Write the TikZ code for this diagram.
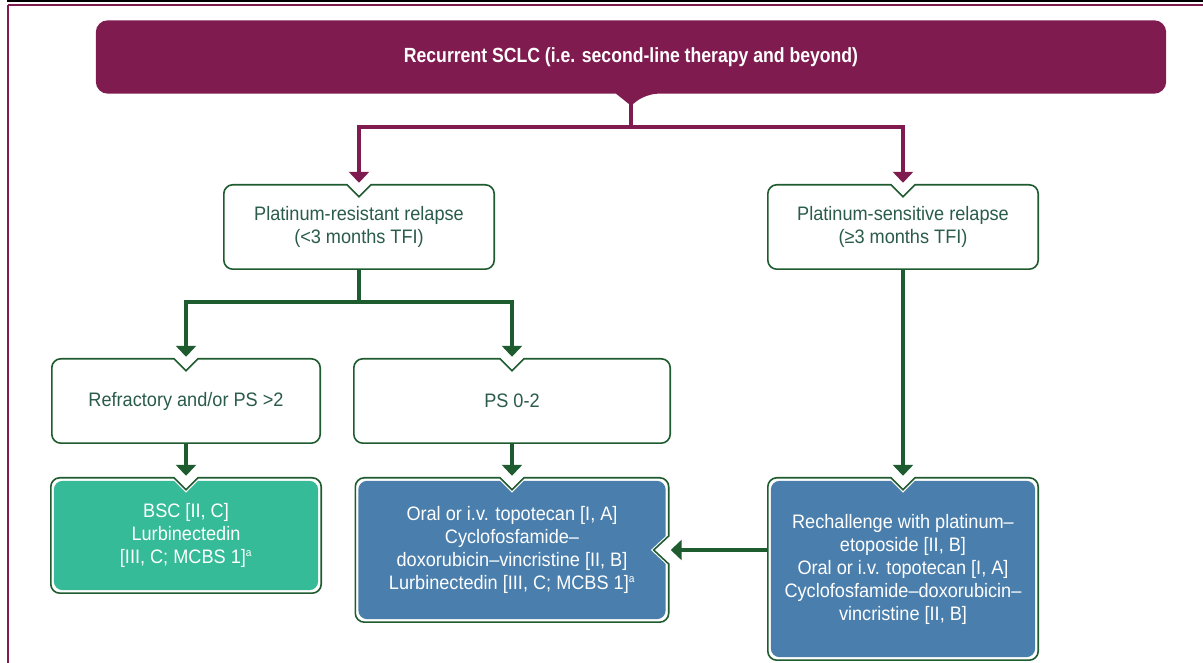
\documentclass[tikz,border=0pt]{standalone}
\usepackage{fontspec}
\setmainfont{Liberation Sans}[FakeStretch=0.93]
\newfontfamily\headfont{Liberation Sans}[FakeStretch=0.86]
\usepackage{tikz}
\usetikzlibrary{arrows.meta,positioning,backgrounds}
\definecolor{plum}{HTML}{7F1B4F}
\definecolor{forest}{HTML}{1E5B2F}
\definecolor{inkgreen}{HTML}{2A5B4B}
\definecolor{tealfill}{HTML}{35BB97}
\definecolor{bluefill}{HTML}{4A7EAC}
\newcommand{\boxfont}{\fontsize{19.5}{23}\selectfont}
\newcommand{\supa}{\textsuperscript{\fontsize{11}{11}\selectfont a}}
% outline of a box with a notch on top (and optionally on the right side)
\newcommand{\notchpath}[3]{%
  ([shift={(#2,#2+9)}]#1.south west) -- ([shift={(#2,-#2-9)}]#1.north west)
  arc[start angle=180,end angle=90,radius=9pt]
  -- ([shift={(-12,-#2)}]#1.north) -- ([shift={(0,-12-#2)}]#1.north) -- ([shift={(12,-#2)}]#1.north)
  -- ([shift={(-#2-9,-#2)}]#1.north east) arc[start angle=90,end angle=0,radius=9pt]
  -- ([shift={(-#2,14)}]#1.east) -- ([shift={(-#2-#3,0)}]#1.east) -- ([shift={(-#2,-14)}]#1.east)
  -- ([shift={(-#2,#2+9)}]#1.south east) arc[start angle=0,end angle=-90,radius=9pt]
  -- ([shift={(#2+9,#2)}]#1.south west) arc[start angle=270,end angle=180,radius=9pt] -- cycle}
\tikzset{
  headbox/.style={minimum width=1070pt,minimum height=73pt,align=center,text=white,font=\headfont\bfseries\fontsize{20.5}{24}\selectfont,inner sep=0pt},
  choice/.style={minimum width=270pt,minimum height=84pt,align=center,text=inkgreen,font=\boxfont,inner sep=0pt},
  regimen/.style={minimum width=270pt,align=center,text=white,font=\boxfont,inner sep=0pt},
  outline/.style={draw=forest,line width=1.6pt,fill=white},
  pline/.style={plum,line width=4pt},
  parrow/.style={-{Triangle[width=20pt,length=11pt]},plum,line width=4pt},
  gline/.style={forest,line width=3.5pt},
  garrow/.style={-{Triangle[width=20pt,length=11pt]},forest,line width=3.5pt}
}
\begin{document}
\begin{tikzpicture}[x=1pt,y=1pt]
  \useasboundingbox (0,0) rectangle (1203,663);

  % page frame
  \draw[black,line width=2.5pt] (7,662) -- (1203,662);
  \draw[plum,line width=2pt] (8,657.5) -- (1203,657.5);
  \draw[plum,line width=2pt] (8,657.5) -- (8,0);

  \node[headbox] (hdr) at (631,606) {Recurrent SCLC (i.e. second-line therapy and beyond)};
  \node[choice] (res) at (359,436) {Platinum-resistant relapse\\(<3 months TFI)};
  \node[choice] (sen) at (903,436) {Platinum-sensitive relapse\\(≥3 months TFI)};
  \node[choice,minimum width=268pt] (refr) at (186,262) {Refractory and/or PS >2};
  \node[choice,minimum width=316pt] (ps) at (512,262) {PS 0-2};
  \node[regimen,minimum height=115pt] (bsc) at (186,127.5) {BSC [II, C]\\Lurbinectedin\\\relax[III, C; MCBS 1]\supa};
  \node[regimen,minimum width=313pt,minimum height=144pt] (topo) at (512,113) {Oral or i.v. topotecan [I, A]\\Cyclofosfamide–\\doxorubicin–vincristine [II, B]\\Lurbinectedin [III, C; MCBS 1]\supa};
  \node[regimen,minimum height=182pt] (rch) at (903,94) {Rechallenge with platinum–\\etoposide [II, B]\\Oral or i.v. topotecan [I, A]\\Cyclofosfamide–doxorubicin–\\vincristine [II, B]};

  \coordinate (fork) at (631,536);
  \coordinate (branch) at (359,361);

  \begin{scope}[on background layer]
    \fill[plum,rounded corners=12pt] (hdr.south west) -- (hdr.north west) -- (hdr.north east) -- (hdr.south east)
      -- ([xshift=15]hdr.south) [sharp corners] -- ([yshift=-12]hdr.south) -- ([xshift=-15]hdr.south) [rounded corners=12pt] -- cycle;
    \foreach \n in {res,sen,refr,ps}
      \draw[outline] \notchpath{\n}{0}{0};
    \foreach \n/\c in {bsc/tealfill,rch/bluefill} {
      \draw[outline] \notchpath{\n}{0}{0};
      \fill[\c] \notchpath{\n}{3}{0};
    }
    \draw[outline] \notchpath{topo}{0}{15};
    \fill[bluefill] \notchpath{topo}{3}{15};
  \end{scope}

  \draw[pline] (hdr.south) -- (fork);
  \draw[parrow] (fork) -| ([yshift=2]res.north);
  \draw[parrow] (fork) -| ([yshift=2]sen.north);

  \draw[gline] (res.south) -- (branch);
  \draw[garrow] (branch) -| ([yshift=2]refr.north);
  \draw[garrow] (branch) -| ([yshift=2]ps.north);
  \draw[garrow] (refr.south) -- ([yshift=2]bsc.north);
  \draw[garrow] (ps.south) -- ([yshift=2]topo.north);
  \draw[garrow] (sen.south) -- ([yshift=2]rch.north);
  \draw[garrow] (rch.west |- topo.east) -- ([xshift=2]topo.east);
\end{tikzpicture}
\end{document}
